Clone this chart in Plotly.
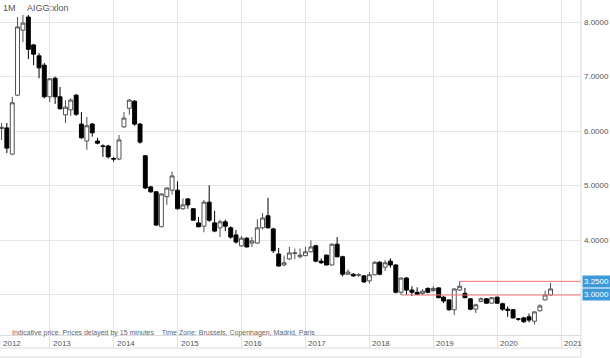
import plotly.graph_objects as go
import pandas as pd

# ---------------- data ----------------
first_month = "2012-04-01"
opens = [6.05, 6.06, 5.58, 6.66, 7.85, 8.09, 7.58, 7.38, 7.21, 6.63,
         6.97, 6.63, 6.30, 6.39, 6.66, 6.13, 5.82, 6.13, 5.82, 5.73,
         5.73, 5.50, 5.49, 6.08, 6.42, 6.55, 6.13, 5.55, 4.98, 4.89,
         4.25, 4.80, 4.92, 4.92, 4.58, 4.76, 4.58, 4.32, 4.26, 4.70,
         4.32, 4.23, 4.34, 4.23, 4.10, 3.90, 4.04, 3.95, 3.95, 4.23,
         4.45, 4.21, 3.75, 3.55, 3.66, 3.76, 3.70, 3.72, 3.79, 3.90,
         3.62, 3.73, 3.55, 3.93, 3.70, 3.38, 3.38, 3.36, 3.35, 3.26,
         3.37, 3.60, 3.51, 3.62, 3.55, 3.05, 3.31, 3.09, 3.05, 3.03,
         3.12, 3.08, 3.13, 2.96, 2.91, 2.73, 3.09, 3.03, 2.93, 2.74,
         2.88, 2.93, 2.85, 2.96, 2.84, 2.74, 2.73, 2.56, 2.58, 2.60,
         2.52, 2.71, 2.91, 3.00]
highs = [6.15, 6.15, 6.63, 8.09, 8.13, 8.13, 7.60, 7.43, 7.25, 6.97,
         7.00, 6.81, 6.57, 6.60, 6.68, 6.35, 6.26, 6.15, 5.88, 5.76,
         5.75, 5.53, 5.93, 6.35, 6.59, 6.57, 6.15, 5.56, 5.00, 4.90,
         4.86, 4.97, 5.26, 5.08, 4.77, 4.77, 4.59, 4.43, 4.74, 5.01,
         4.54, 4.38, 4.38, 4.26, 4.19, 4.08, 4.06, 4.06, 4.39, 4.50,
         4.78, 4.23, 3.86, 3.72, 3.88, 3.85, 3.85, 3.88, 4.00, 3.92,
         3.67, 3.74, 3.94, 4.06, 3.72, 3.47, 3.40, 3.40, 3.36, 3.42,
         3.62, 3.62, 3.64, 3.67, 3.56, 3.32, 3.33, 3.16, 3.14, 3.11,
         3.14, 3.16, 3.14, 2.98, 2.92, 3.12, 3.25, 3.13, 2.94, 2.84,
         2.96, 2.94, 2.96, 2.97, 2.86, 2.79, 2.74, 2.58, 2.60, 2.66,
         2.70, 2.83, 3.08, 3.22]
lows = [5.84, 5.60, 5.56, 6.64, 7.63, 7.32, 7.21, 6.97, 6.60, 6.53,
        6.50, 6.40, 6.15, 6.28, 6.28, 5.86, 5.66, 5.90, 5.76, 5.53,
        5.50, 5.44, 5.47, 6.06, 6.30, 6.10, 5.77, 4.94, 4.87, 4.27,
        4.24, 4.65, 4.84, 4.56, 4.56, 4.58, 4.36, 4.24, 4.15, 4.34,
        4.15, 4.06, 4.17, 4.03, 3.94, 3.88, 3.87, 3.88, 3.94, 4.20,
        4.22, 3.77, 3.52, 3.53, 3.64, 3.66, 3.67, 3.71, 3.78, 3.60,
        3.57, 3.54, 3.54, 3.69, 3.34, 3.37, 3.33, 3.33, 3.22, 3.21,
        3.36, 3.36, 3.44, 3.50, 3.03, 3.00, 3.01, 2.98, 3.00, 3.00,
        3.03, 3.06, 2.94, 2.85, 2.71, 2.63, 3.08, 2.94, 2.72, 2.67,
        2.87, 2.84, 2.84, 2.84, 2.71, 2.60, 2.57, 2.53, 2.49, 2.50,
        2.46, 2.70, 2.90, 2.99]
closes = [6.07, 5.69, 6.52, 7.91, 7.98, 7.50, 7.41, 7.16, 6.63, 6.96,
          6.63, 6.41, 6.44, 6.57, 6.31, 5.88, 6.10, 5.97, 5.78, 5.72,
          5.53, 5.49, 5.84, 6.24, 6.57, 6.13, 5.80, 4.96, 4.89, 4.28,
          4.85, 4.96, 5.18, 4.58, 4.65, 4.65, 4.37, 4.25, 4.70, 4.37,
          4.17, 4.34, 4.26, 4.06, 3.97, 4.04, 3.88, 3.99, 4.23, 4.41,
          4.23, 3.81, 3.53, 3.59, 3.77, 3.77, 3.73, 3.79, 3.88, 3.62,
          3.59, 3.55, 3.93, 3.70, 3.38, 3.42, 3.35, 3.37, 3.24, 3.37,
          3.60, 3.38, 3.59, 3.55, 3.05, 3.31, 3.09, 3.05, 3.01, 3.07,
          3.05, 3.12, 2.95, 2.89, 2.73, 3.11, 3.16, 2.95, 2.74, 2.82,
          2.93, 2.85, 2.95, 2.85, 2.74, 2.72, 2.58, 2.56, 2.51, 2.54,
          2.69, 2.80, 3.00, 3.11]

years = [2012, 2013, 2014, 2015, 2016, 2017, 2018, 2019, 2020, 2021]
year_labels = [str(y) for y in years]

y_tick_values = [3, 4, 5, 6, 7, 8]
y_tick_labels = ["3.0000", "4.0000", "5.0000", "6.0000", "7.0000", "8.0000"]

level_values = [3.25, 3.0]
level_labels = ["3.2500", "3.0000"]
level_start_months = ["2019-06-01", "2018-07-01"]

period_label = "1M"
symbol_label = "AIGG:xlon"
disclaimer = ("Indicative price. Prices delayed by 15 minutes"
              "&nbsp;&nbsp;&nbsp; Time Zone: Brussels, Copenhagen, Madrid, Paris")

# ---------------- figure ----------------
months = pd.date_range(first_month, periods=len(opens), freq="MS")
x_range = [pd.Timestamp("2012-03-23"), pd.Timestamp("2021-04-24")]
y_range = [2.267, 8.403]

FONT = "Liberation Sans, Arial, sans-serif"
GRID = "#e6e6e6"
TXT = "#555555"

fig = go.Figure()
fig.add_trace(go.Candlestick(
    x=months, open=opens, high=highs, low=lows, close=closes,
    increasing=dict(line=dict(color="#505050", width=1), fillcolor="white"),
    decreasing=dict(line=dict(color="#000000", width=1), fillcolor="#000000"),
    whiskerwidth=0, showlegend=False, hoverinfo="skip",
))

# support / resistance levels
for val, start in zip(level_values, level_start_months):
    fig.add_trace(go.Scatter(
        x=[pd.Timestamp(start), x_range[1]], y=[val, val], mode="lines",
        line=dict(color="#f07474", width=1), showlegend=False, hoverinfo="skip",
        cliponaxis=False,
    ))

annotations = []
# y tick labels on the right
for val, lab in zip(y_tick_values, y_tick_labels):
    annotations.append(dict(
        xref="paper", x=1, xanchor="left", xshift=1, yref="y", y=val,
        yanchor="middle", text=lab, showarrow=False,
        font=dict(family=FONT, size=8, color=TXT),
    ))
for val, lab in zip(level_values, level_labels):
    annotations.append(dict(
        xref="paper", x=1, xanchor="left", xshift=1, yref="y", y=val,
        yanchor="middle", text=lab, showarrow=False,
        font=dict(family=FONT, size=8, color="white"),
        bgcolor="#3d9ad8", borderpad=1,
    ))

# year labels (first one pinned at the axis start)
for y, lab in zip(years, year_labels):
    pos = max(pd.Timestamp(f"{y}-01-01"), x_range[0])
    annotations.append(dict(
        xref="x", x=pos, xanchor="left", xshift=1, yref="paper", y=0,
        yanchor="middle", yshift=-8, text=lab, showarrow=False,
        font=dict(family=FONT, size=8, color=TXT),
    ))

annotations += [
    dict(xref="paper", x=0, xanchor="left", xshift=1, yref="paper", y=1,
         yanchor="top", yshift=-1, text=period_label, showarrow=False,
         font=dict(family=FONT, size=9, color=TXT)),
    dict(xref="paper", x=0, xanchor="left", xshift=25, yref="paper", y=1,
         yanchor="top", yshift=-1, text=symbol_label, showarrow=False,
         font=dict(family=FONT, size=9, color=TXT)),
    dict(xref="paper", x=0, xanchor="left", xshift=10, yref="paper", y=0,
         yanchor="middle", yshift=2, text=disclaimer, showarrow=False,
         font=dict(family=FONT, size=7, color="#666666")),
]

H_PLOT = 335.0
shapes = [
    dict(type="line", xref="paper", yref="paper", x0=0, x1=1,
         y0=-13 / H_PLOT, y1=-13 / H_PLOT, line=dict(color="#dcdcdc", width=1)),
    dict(type="line", xref="paper", yref="paper", x0=0, x1=1,
         y0=-22 / H_PLOT, y1=-22 / H_PLOT, line=dict(color="#dcdcdc", width=1)),
    dict(type="line", xref="paper", yref="paper", x0=1, x1=1,
         y0=-22 / H_PLOT, y1=1, line=dict(color="#dcdcdc", width=1)),
]

fig.update_layout(
    template="none",
    width=610, height=358,
    margin=dict(l=0, r=29, t=0, b=23, pad=0),
    paper_bgcolor="white", plot_bgcolor="white",
    boxgap=0.2, boxgroupgap=0,
    showlegend=False,
    annotations=annotations,
    shapes=shapes,
    xaxis=dict(
        type="date", range=x_range, rangeslider=dict(visible=False),
        tickvals=[pd.Timestamp(f"{y}-01-01") for y in years[1:]],
        showticklabels=False, showgrid=True, gridcolor=GRID, gridwidth=1,
        ticks="outside", ticklen=13, tickcolor=GRID, tickwidth=1,
        showline=True, linecolor="#dcdcdc", linewidth=1,
        zeroline=False, automargin=False, fixedrange=True,
    ),
    yaxis=dict(
        side="right", range=y_range, tickvals=y_tick_values,
        showticklabels=False, showgrid=True, gridcolor=GRID, gridwidth=1,
        ticks="", zeroline=False, showline=False, automargin=False,
        fixedrange=True,
    ),
)

fig.write_html(
    "out.html",
    config={"displayModeBar": False},
    post_script="document.body.style.margin='0';document.body.style.overflow='hidden';",
)
